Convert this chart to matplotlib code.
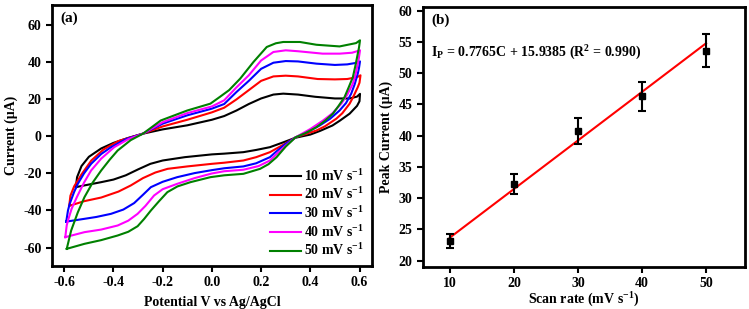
import matplotlib
matplotlib.use('Agg')
import matplotlib.pyplot as plt

plt.rcParams['font.family'] = ['Liberation Serif', 'DejaVu Serif']
plt.rcParams['font.weight'] = 'bold'
plt.rcParams['axes.labelweight'] = 'bold'
plt.rcParams['mathtext.fontset'] = 'custom'
plt.rcParams['mathtext.rm'] = 'Liberation Serif:bold'
plt.rcParams['mathtext.it'] = 'Liberation Serif:bold:italic'
plt.rcParams['mathtext.bf'] = 'Liberation Serif:bold'
plt.rcParams['mathtext.default'] = 'rm'

# (a) cyclic voltammograms: forward (upper) and reverse (lower) sweeps
labels = ['10 mV s$^{-1}$', '20 mV s$^{-1}$', '30 mV s$^{-1}$', '40 mV s$^{-1}$', '50 mV s$^{-1}$']
colors = ['black', 'red', 'blue', 'magenta', 'green']

e10 = [-0.553, -0.548, -0.53, -0.5, -0.45, -0.4, -0.34, -0.28, -0.2, -0.1, 0.0, 0.05, 0.1, 0.15, 0.2, 0.25,
       0.29, 0.35, 0.42, 0.5, 0.56, 0.59, 0.602,
       0.6, 0.59, 0.56, 0.52, 0.49, 0.44, 0.4, 0.34, 0.29, 0.236, 0.18, 0.128, 0.05, 0.0, -0.11, -0.2,
       -0.25, -0.3, -0.35, -0.4, -0.45, -0.52, -0.553]
i10 = [-27.4, -22, -16, -11, -6.5, -3.5, -0.8, 1.5, 3.8, 6, 9, 11, 14, 17.5, 20.5, 22.6,
       23.1, 22.6, 21.4, 20.5, 20.5, 21.5, 23,
       19, 16.5, 12.3, 8.5, 5.9, 3, 1, -0.7, -3.2, -5.8, -7.3, -8.5, -9.3, -9.7, -11.2, -13,
       -14.8, -17.8, -21, -23.3, -24.7, -26.5, -27.4]

e20 = [-0.58, -0.575, -0.56, -0.53, -0.49, -0.44, -0.38, -0.28, -0.2, -0.1, 0.0, 0.05, 0.1, 0.15, 0.2,
       0.25, 0.3, 0.35, 0.43, 0.5, 0.55, 0.59, 0.604,
       0.6, 0.593, 0.575, 0.56, 0.53, 0.506, 0.46, 0.425, 0.34, 0.29, 0.236, 0.18, 0.128, 0.05, 0.0,
       -0.1, -0.18, -0.23, -0.28, -0.33, -0.38, -0.45, -0.52, -0.58]
i20 = [-37.5, -32, -27, -20.5, -13, -7, -2.5, 1.5, 5.4, 9, 13, 15.5, 20, 25, 30,
       32.4, 32.8, 32.4, 31, 30.8, 31, 32, 33,
       29, 26.6, 21.5, 17.7, 12.5, 9.6, 5.5, 3.2, -0.5, -4.5, -8.5, -11.2, -13, -14.2, -14.8,
       -16.2, -17.5, -19.5, -22.5, -26.5, -29.8, -33, -35, -37.5]

e30 = [-0.592, -0.585, -0.578, -0.56, -0.545, -0.52, -0.491, -0.45, -0.41, -0.35, -0.28, -0.2, -0.1,
       0.0, 0.05, 0.1, 0.15, 0.2, 0.25, 0.3, 0.35, 0.425, 0.5, 0.55, 0.59, 0.602,
       0.598, 0.593, 0.58, 0.566, 0.545, 0.519, 0.48, 0.438, 0.39, 0.34, 0.3, 0.263, 0.236, 0.18,
       0.128, 0.05, 0.0, -0.07, -0.141, -0.2, -0.248, -0.28, -0.316, -0.36, -0.41, -0.47, -0.518, -0.592]
i30 = [-46, -40, -36.4, -30, -25.6, -20, -14.8, -9.5, -5.8, -1.5, 1.5, 6.9, 11.4,
       15, 17.5, 24, 30, 36.5, 39.8, 40.7, 40.5, 39.3, 38.6, 38.9, 39.8, 40.5,
       37, 33.9, 28, 23, 18, 14, 9.5, 5.9, 2.5, -0.5, -4, -8, -11.2, -14.5,
       -16.2, -17.2, -18.2, -19.8, -22, -24.5, -27.4, -31.5, -36, -39.5, -41.8, -43.5, -44.5, -46]

e40 = [-0.596, -0.59, -0.585, -0.57, -0.549, -0.52, -0.491, -0.45, -0.397, -0.34, -0.28, -0.2, -0.1,
       0.0, 0.05, 0.1, 0.15, 0.2, 0.25, 0.3, 0.35, 0.45, 0.52, 0.57, 0.602,
       0.597, 0.593, 0.585, 0.573, 0.55, 0.526, 0.49, 0.452, 0.4, 0.34, 0.3, 0.263, 0.236, 0.19,
       0.128, 0.05, 0.0, -0.07, -0.141, -0.2, -0.235, -0.27, -0.302, -0.34, -0.383, -0.45, -0.518, -0.596]
i40 = [-54.4, -48, -45.4, -39, -32.8, -25, -18.4, -12, -5.8, -1.5, 1.5, 7.7, 12.6,
       16.2, 19.5, 26.5, 33, 41, 45.6, 46.5, 46, 44.7, 44.7, 45.2, 46.5,
       42, 39.3, 34, 28.5, 22.5, 17.7, 12.5, 8.6, 4, -0.5, -5, -9.5, -13, -16,
       -18, -18.8, -20, -22.5, -25.6, -28.5, -31.9, -37.5, -41.8, -45.5, -48.1, -50.3, -51.7, -54.4]

e50 = [-0.59, -0.572, -0.545, -0.518, -0.485, -0.45, -0.415, -0.383, -0.33, -0.28, -0.208, -0.1,
       -0.006, 0.034, 0.07, 0.115, 0.169, 0.223, 0.26, 0.29, 0.358, 0.425, 0.519, 0.586, 0.602,
       0.598, 0.593, 0.583, 0.573, 0.556, 0.539, 0.515, 0.492, 0.46, 0.425, 0.38, 0.34, 0.3, 0.263,
       0.23, 0.196, 0.128, 0.05, -0.006, -0.087, -0.14, -0.181, -0.215, -0.248, -0.275, -0.302,
       -0.34, -0.383, -0.45, -0.518, -0.59]
i50 = [-60.7, -50.8, -41, -32.8, -25, -18.4, -12.5, -7.6, -2, 1.5, 8.6, 14,
       17.7, 21.5, 25, 31.2, 40.2, 48.3, 50.3, 51, 51, 49.5, 48.6, 50.4, 51.9,
       48, 44.7, 38, 32, 26.5, 21.2, 16.5, 12.3, 8.5, 5, 1.8, -0.5, -5.5, -11.2,
       -15, -17.5, -20.2, -21, -22, -24.7, -27, -30.1, -35, -40, -44.5, -48.5,
       -51.5, -53.5, -56, -58, -60.7]

potentials = [e10, e20, e30, e40, e50]
currents = [i10, i20, i30, i40, i50]

# (b) peak current vs scan rate
scan_rate = [10, 20, 30, 40, 50]
peak_current = [23.2, 32.3, 40.7, 46.3, 53.6]
peak_err = [1.1, 1.6, 2.05, 2.3, 2.6]
slope = 0.7765
intercept = 15.9385

fig = plt.figure(figsize=(7.49, 3.09), dpi=100)
ax1 = fig.add_axes([0.0694, 0.139, 0.427, 0.845])
ax2 = fig.add_axes([0.5648, 0.136, 0.43, 0.842])

for e, i, c, lab in zip(potentials, currents, colors, labels):
    ax1.plot(e, i, color=c, lw=1.5, label=lab)

ax1.set_xlim(-0.65, 0.65)
ax1.set_ylim(-70, 71)
ax1.set_xticks([-0.6, -0.4, -0.2, 0.0, 0.2, 0.4, 0.6])
ax1.set_xticklabels(['-0.6', '-0.4', '-0.2', '0.0', '0.2', '0.4', '0.6'])
ax1.set_yticks([-60, -40, -20, 0, 20, 40, 60])
ax1.set_yticklabels(['-60', '-40', '-20', '0', '20', '40', '60'])
ax1.set_xlabel('Potential V vs Ag/AgCl', fontsize=10, labelpad=5)
ax1.set_ylabel('Current (μA)', fontsize=10, labelpad=4)
ax1.text(0.025, 0.975, '(a)', transform=ax1.transAxes, fontsize=11, fontweight='bold', va='top', ha='left')
ax1.legend(loc='lower right', frameon=False, fontsize=10, handlelength=2.2, handletextpad=0.25,
           labelspacing=0.2, borderaxespad=0.15)

x_fit = [scan_rate[0], scan_rate[-1]]
y_fit = [slope * x + intercept for x in x_fit]
ax2.plot(x_fit, y_fit, color='red', lw=1.5)
ax2.errorbar(scan_rate, peak_current, yerr=peak_err, fmt='s', color='black', ms=4,
             ecolor='black', elinewidth=1.5, capsize=3, capthick=1.5)
ax2.set_xlim(5.8, 56.1)
ax2.set_ylim(19, 60.6)
ax2.set_xticks(scan_rate)
ax2.set_yticks([20, 25, 30, 35, 40, 45, 50, 55, 60])
ax2.set_xlabel('Scan rate (mV s$^{-1}$)', fontsize=10, labelpad=0.5)
ax2.set_ylabel('Peak Current (μA)', fontsize=10, labelpad=4)
ax2.text(0.025, 0.975, '(b)', transform=ax2.transAxes, fontsize=11, fontweight='bold', va='top', ha='left')
ax2.text(7.1, 53.2, 'I$_{\\mathbf{P}}$ = 0.7765C + 15.9385 (R$^{2}$ = 0.990)', fontsize=10,
         fontweight='bold', va='center', ha='left')

for ax in (ax1, ax2):
    for s in ax.spines.values():
        s.set_linewidth(2)
    ax.tick_params(direction='out', length=4, width=1.5, labelsize=10, top=False, right=False)
    for t in ax.get_xticklabels() + ax.get_yticklabels():
        t.set_fontweight('bold')

fig.savefig('out.png', dpi=100)
